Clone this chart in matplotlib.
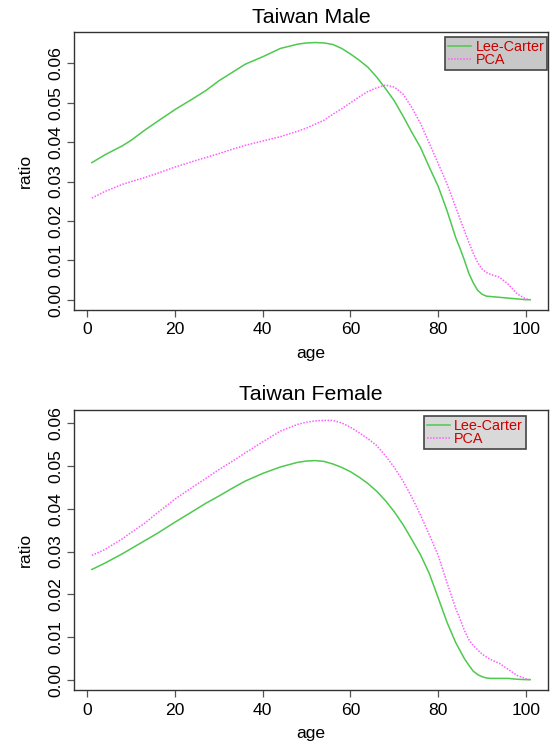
import numpy as np
import matplotlib
matplotlib.use('Agg')
import matplotlib.pyplot as plt

plt.rcParams['font.family'] = ['Liberation Sans', 'DejaVu Sans']

ages = [1, 4, 8, 10, 13, 16, 20, 24, 27, 30, 33, 36, 40, 44, 48, 50, 52, 54, 56, 58,
        60, 62, 64, 66, 68, 70, 72, 74, 76, 78, 80, 82, 84, 85, 86, 87, 88, 89, 90, 91,
        92, 94, 96, 98, 100, 101]

male_lee_carter = [0.0348, 0.0368, 0.0391, 0.0405, 0.0430, 0.0453, 0.0483, 0.0510,
                   0.0531, 0.0556, 0.0577, 0.0598, 0.0617, 0.0638, 0.0649, 0.0652,
                   0.0653, 0.0652, 0.0648, 0.0638, 0.0624, 0.0608, 0.0590, 0.0565,
                   0.0536, 0.0505, 0.0466, 0.0425, 0.0386, 0.0336, 0.0288, 0.0227,
                   0.0158, 0.0130, 0.0100, 0.0067, 0.0043, 0.0024, 0.0014, 0.0009,
                   0.0008, 0.0006, 0.0004, 0.0002, 0.0000, 0.0000]
male_pca = [0.0258, 0.0275, 0.0293, 0.0300, 0.0310, 0.0321, 0.0337, 0.0351,
            0.0361, 0.0371, 0.0382, 0.0392, 0.0403, 0.0414, 0.0428, 0.0436,
            0.0446, 0.0456, 0.0471, 0.0485, 0.0500, 0.0515, 0.0529, 0.0538,
            0.0545, 0.0540, 0.0522, 0.0488, 0.0447, 0.0397, 0.0346, 0.0295,
            0.0235, 0.0205, 0.0175, 0.0146, 0.0118, 0.0095, 0.0078, 0.0069,
            0.0064, 0.0057, 0.0039, 0.0015, 0.0002, 0.0000]

female_lee_carter = [0.0258, 0.0273, 0.0295, 0.0307, 0.0325, 0.0343, 0.0369, 0.0394,
                     0.0413, 0.0430, 0.0448, 0.0465, 0.0483, 0.0498, 0.0509, 0.0512,
                     0.0513, 0.0511, 0.0505, 0.0497, 0.0487, 0.0474, 0.0459, 0.0441,
                     0.0419, 0.0393, 0.0363, 0.0328, 0.0292, 0.0248, 0.0192, 0.0135,
                     0.0087, 0.0068, 0.0049, 0.0034, 0.0020, 0.0012, 0.0007, 0.0004,
                     0.0003, 0.0003, 0.0003, 0.0001, 0.0000, 0.0000]
female_pca = [0.0291, 0.0305, 0.0330, 0.0345, 0.0366, 0.0391, 0.0423, 0.0451,
              0.0471, 0.0492, 0.0511, 0.0531, 0.0557, 0.0582, 0.0598, 0.0603,
              0.0606, 0.0607, 0.0607, 0.0601, 0.0591, 0.0578, 0.0564, 0.0548,
              0.0524, 0.0497, 0.0465, 0.0427, 0.0385, 0.0339, 0.0291, 0.0228,
              0.0167, 0.0142, 0.0115, 0.0094, 0.0080, 0.0070, 0.0060, 0.0053,
              0.0047, 0.0038, 0.0024, 0.0010, 0.0002, 0.0000]

x_ticks = [0, 20, 40, 60, 80, 100]
y_ticks = [0.00, 0.01, 0.02, 0.03, 0.04, 0.05, 0.06]

GREEN = '#4ec94e'
PINK = '#ff5cff'


def r_limits(values):
    # pad the data range by 4% on each side, like base R graphics
    lo, hi = min(values), max(values)
    pad = (hi - lo) * 0.04
    return lo - pad, hi + pad


def panel(ax, title, lee_carter, pca, legend_anchor, legend_face):
    ax.plot(ages, lee_carter, '-', color=GREEN, lw=1.1, label='Lee-Carter')
    ax.plot(ages, pca, color=PINK, lw=1.1, linestyle=(0, (1, 1)), label='PCA')

    ax.set_xlim(r_limits(ages))
    ax.set_ylim(r_limits(lee_carter + pca))
    ax.set_xticks(x_ticks)
    ax.set_yticks(y_ticks)
    ax.set_yticklabels(['%.2f' % v for v in y_ticks], rotation=90, va='center')
    ax.tick_params(direction='out', length=5, width=0.9, color='#555555',
                   labelsize=12.6, pad=4)
    ax.tick_params(axis='y', pad=3)
    for s in ax.spines.values():
        s.set_color('#333333')
        s.set_linewidth(1.0)

    ax.set_title(title, fontsize=15.4, pad=7)
    ax.set_xlabel('age', fontsize=12.6, labelpad=6)
    ax.set_ylabel('ratio', fontsize=12.6, labelpad=11)

    leg = ax.legend(loc='upper right', bbox_to_anchor=legend_anchor, fontsize=10.4,
                    fancybox=False, framealpha=1, borderpad=0.2, labelspacing=-0.05,
                    handlelength=1.6, handletextpad=0.3, borderaxespad=0)
    frame = leg.get_frame()
    frame.set_facecolor(legend_face)
    frame.set_edgecolor('#444444')
    frame.set_linewidth(1.2)
    for text in leg.get_texts():
        text.set_color('#cc0000')


fig = plt.figure(figsize=(5.55, 7.52), dpi=100)
ax1 = fig.add_axes([0.1339, 0.5878, 0.853, 0.3693])
ax2 = fig.add_axes([0.1339, 0.0824, 0.853, 0.3723])

panel(ax1, 'Taiwan Male', male_lee_carter, male_pca, (0.999, 0.982), '#c8c8c8')
panel(ax2, 'Taiwan Female', female_lee_carter, female_pca, (0.9535, 0.979), '#d9d9d9')

fig.savefig('out.png', dpi=100)
